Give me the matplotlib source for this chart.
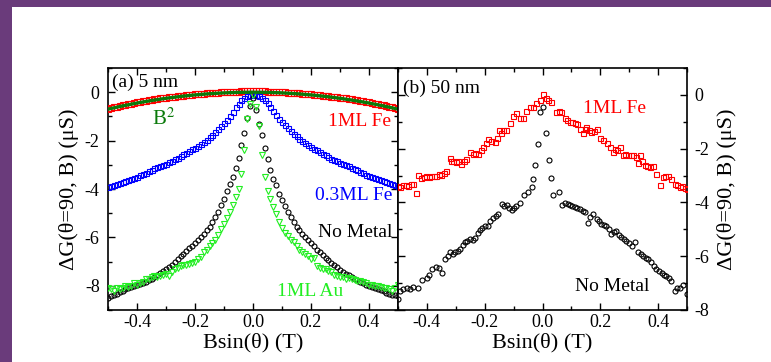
import numpy as np
import matplotlib
matplotlib.use("Agg")
import matplotlib.pyplot as plt
from matplotlib.patches import Rectangle
from matplotlib.ticker import MultipleLocator

matplotlib.rcParams.update({
    'font.family': 'serif',
    'font.serif': ['Liberation Serif', 'DejaVu Serif'],
    'mathtext.fontset': 'stix',
    'axes.unicode_minus': False,
})

# ---------------- panel (a): 5 nm, sampled every 10 mT ----------------
x_a = np.round(np.arange(-50, 51) * 0.01, 2)

fe1_a = [-0.69, -0.66, -0.63, -0.60, -0.57, -0.54, -0.52, -0.49, -0.47, -0.44,
         -0.42, -0.40, -0.38, -0.35, -0.33, -0.31, -0.29, -0.28, -0.26, -0.24,
         -0.22, -0.21, -0.19, -0.18, -0.16, -0.15, -0.14, -0.12, -0.11, -0.10,
         -0.09, -0.08, -0.07, -0.06, -0.05, -0.04, -0.03, -0.02, -0.02, -0.01,
         0.00, 0.00, 0.01, 0.02, 0.02, 0.02, 0.03, 0.03, 0.03, 0.04,
         0.04,
         0.04, 0.03, 0.03, 0.03, 0.02, 0.02, 0.02, 0.01, 0.00, 0.00,
         -0.01, -0.02, -0.02, -0.03, -0.04, -0.05, -0.06, -0.07, -0.08, -0.09,
         -0.10, -0.11, -0.12, -0.14, -0.15, -0.16, -0.18, -0.19, -0.21, -0.22,
         -0.24, -0.26, -0.28, -0.29, -0.31, -0.33, -0.35, -0.38, -0.40, -0.42,
         -0.44, -0.47, -0.49, -0.52, -0.54, -0.57, -0.60, -0.63, -0.66, -0.70]

fe03_a = [-3.91, -3.86, -3.82, -3.78, -3.74, -3.70, -3.66, -3.62, -3.58, -3.54,
          -3.49, -3.44, -3.38, -3.32, -3.26, -3.20, -3.15, -3.10, -3.05, -3.00,
          -2.95, -2.89, -2.83, -2.77, -2.70, -2.64, -2.57, -2.50, -2.43, -2.36,
          -2.29, -2.22, -2.14, -2.05, -1.96, -1.86, -1.75, -1.64, -1.52, -1.40,
          -1.27, -1.13, -0.97, -0.80, -0.63, -0.48, -0.32, -0.23, -0.16, -0.12,
          -0.10,
          -0.12, -0.16, -0.23, -0.32, -0.45, -0.60, -0.77, -0.94, -1.10, -1.24,
          -1.37, -1.49, -1.61, -1.72, -1.83, -1.93, -2.02, -2.11, -2.19, -2.26,
          -2.33, -2.40, -2.47, -2.54, -2.61, -2.67, -2.74, -2.80, -2.86, -2.92,
          -2.97, -3.02, -3.07, -3.12, -3.17, -3.23, -3.29, -3.35, -3.41, -3.46,
          -3.51, -3.55, -3.59, -3.63, -3.67, -3.71, -3.75, -3.79, -3.83, -3.88]

nometal_a = [-8.50, -8.44, -8.38, -8.32, -8.26, -8.20, -8.13, -8.08, -8.03, -8.00,
             -7.98, -7.94, -7.90, -7.84, -7.77, -7.70, -7.62, -7.55, -7.47, -7.40,
             -7.32, -7.22, -7.12, -7.00, -6.88, -6.78, -6.68, -6.57, -6.45, -6.35,
             -6.25, -6.12, -6.00, -5.85, -5.70, -5.55, -5.35, -5.15, -4.95, -4.65,
             -4.40, -4.10, -3.80, -3.50, -3.15, -2.70, -2.20, -1.70, -1.05, -0.55,
             -0.25,
             -0.75, -1.30, -1.75, -2.30, -2.75, -3.20, -3.60, -3.85, -4.20, -4.45,
             -4.70, -4.95, -5.15, -5.35, -5.55, -5.70, -5.85, -5.98, -6.12, -6.25,
             -6.37, -6.50, -6.62, -6.74, -6.85, -6.95, -7.05, -7.15, -7.24, -7.33,
             -7.42, -7.50, -7.57, -7.64, -7.70, -7.77, -7.83, -7.89, -7.95, -8.01,
             -8.06, -8.10, -8.14, -8.19, -8.23, -8.28, -8.32, -8.36, -8.40, -8.43]

au1_a = [-8.10, -8.15, -8.20, -8.10, -8.15, -8.10, -8.00, -8.05, -8.00, -7.90,
         -7.95, -7.90, -7.85, -7.70, -7.70, -7.65, -7.58, -7.62, -7.60, -7.55,
         -7.50, -7.60, -7.45, -7.30, -7.25, -7.20, -7.15, -7.15, -7.10, -7.05,
         -7.00, -6.90, -6.80, -6.60, -6.50, -6.35, -6.25, -6.10, -5.90, -5.65,
         -5.45, -5.20, -4.95, -4.65, -4.35, -4.00, -3.40, -2.40, -1.10, -0.50,
         -0.10,
         -0.60, -1.40, -2.60, -3.50, -4.10, -4.40, -4.75, -5.05, -5.35, -5.60,
         -5.80, -5.95, -6.10, -6.20, -6.35, -6.50, -6.60, -6.70, -6.75, -6.90,
         -6.85, -7.20, -7.25, -7.30, -7.30, -7.40, -7.45, -7.55, -7.60, -7.62,
         -7.65, -7.70, -7.68, -7.72, -7.75, -7.80, -7.82, -7.85, -7.90, -7.95,
         -7.98, -8.00, -8.02, -8.05, -8.10, -8.10, -8.15, -8.20, -8.10, -7.95]

# B^2 fit line
x_fit = [-0.50, -0.45, -0.40, -0.35, -0.30, -0.25, -0.20, -0.15, -0.10, -0.05, 0.00,
         0.05, 0.10, 0.15, 0.20, 0.25, 0.30, 0.35, 0.40, 0.45, 0.50]
b2_fit = [-0.700, -0.567, -0.448, -0.343, -0.252, -0.175, -0.112, -0.063, -0.028, -0.007, 0.000,
          -0.007, -0.028, -0.063, -0.112, -0.175, -0.252, -0.343, -0.448, -0.567, -0.700]

# ---------------- panel (b): 50 nm ----------------
x_fe1_b = [-0.500, -0.494, -0.483, -0.474, -0.465, -0.456, -0.448, -0.437, -0.431, -0.419,
           -0.410, -0.402, -0.393, -0.385, -0.376, -0.367, -0.358, -0.350, -0.341, -0.333,
           -0.321, -0.315, -0.310, -0.300, -0.292, -0.281, -0.272, -0.263, -0.252, -0.240,
           -0.232, -0.223, -0.214, -0.206, -0.197, -0.189, -0.177, -0.166, -0.158, -0.149,
           -0.143, -0.137, -0.125, -0.114, -0.102, -0.090, -0.079, -0.067, -0.056, -0.044,
           -0.033, -0.021, -0.010, 0.000, 0.011, 0.020, 0.030, 0.047, 0.056, 0.065,
           0.077, 0.085, 0.094, 0.103, 0.112, 0.120, 0.129, 0.140, 0.147, 0.152,
           0.160, 0.169, 0.178, 0.187, 0.198, 0.210, 0.222, 0.233, 0.244, 0.250,
           0.258, 0.267, 0.279, 0.287, 0.296, 0.305, 0.313, 0.322, 0.331, 0.339,
           0.346, 0.354, 0.362, 0.371, 0.382, 0.394, 0.408, 0.417, 0.425, 0.434,
           0.446, 0.457, 0.466, 0.475, 0.484, 0.492, 0.500]
fe1_b = [-3.40, -3.43, -3.34, -3.36, -3.38, -3.33, -3.30, -3.64, -2.99, -3.09,
         -3.05, -3.02, -3.06, -3.03, -3.00, -3.02, -2.95, -2.97, -2.90, -2.84,
         -2.34, -2.45, -2.47, -2.50, -2.47, -2.57, -2.45, -2.39, -2.12, -2.21,
         -2.15, -2.21, -2.05, -1.93, -1.80, -1.64, -1.73, -1.76, -1.62, -1.31,
         -1.40, -1.31, -1.31, -1.06, -0.77, -0.69, -0.87, -0.85, -0.60, -0.44,
         -0.44, -0.31, -0.19, 0.02, -0.10, -0.19, -0.28, -0.65, -0.60, -0.63,
         -0.87, -0.92, -1.02, -1.00, -1.06, -1.10, -1.25, -1.43, -1.25, -1.18,
         -1.30, -1.37, -1.33, -1.28, -1.62, -1.68, -1.78, -1.93, -2.12, -2.00,
         -2.06, -1.93, -2.24, -2.20, -2.23, -2.25, -2.24, -2.30, -2.55, -2.24,
         -2.45, -2.62, -2.65, -2.68, -2.66, -2.93, -3.36, -3.05, -3.00, -3.02,
         -3.11, -3.30, -3.35, -3.43, -3.40, -3.46, -3.50]

x_nm_b = [-0.500, -0.492, -0.481, -0.470, -0.458, -0.447, -0.430, -0.418, -0.401, -0.392,
          -0.384, -0.367, -0.358, -0.349, -0.337, -0.328, -0.320, -0.311, -0.303, -0.294,
          -0.285, -0.276, -0.268, -0.260, -0.251, -0.242, -0.233, -0.224, -0.216, -0.208,
          -0.199, -0.188, -0.180, -0.171, -0.162, -0.153, -0.141, -0.132, -0.124, -0.115,
          -0.107, -0.098, -0.090, -0.078, -0.063, -0.049, -0.038, -0.034, -0.026, -0.015,
          -0.008, 0.003, 0.011, 0.023, 0.031, 0.037, 0.057, 0.066, 0.078, 0.087,
          0.095, 0.103, 0.112, 0.121, 0.130, 0.139, 0.147, 0.158, 0.166, 0.176,
          0.187, 0.195, 0.204, 0.212, 0.221, 0.230, 0.238, 0.247, 0.256, 0.264,
          0.273, 0.281, 0.290, 0.299, 0.308, 0.319, 0.331, 0.340, 0.348, 0.357,
          0.366, 0.377, 0.385, 0.394, 0.403, 0.412, 0.420, 0.429, 0.438, 0.446,
          0.458, 0.467, 0.475, 0.487, 0.499]
nometal_b = [-7.58, -7.28, -7.23, -7.20, -7.23, -7.14, -7.19, -6.89, -6.82, -6.70,
             -6.48, -6.39, -6.45, -6.61, -6.11, -6.00, -5.86, -5.90, -5.86, -5.80,
             -5.73, -5.60, -5.48, -5.42, -5.36, -5.40, -5.32, -5.15, -5.02, -4.95,
             -4.86, -4.88, -4.70, -4.57, -4.50, -4.42, -4.07, -4.12, -4.10, -4.20,
             -4.27, -4.20, -4.15, -4.03, -3.74, -3.61, -3.43, -3.11, -2.62, -1.81,
             -0.65, -0.46, -1.43, -2.43, -3.09, -3.74, -3.61, -4.11, -4.03, -4.05,
             -4.10, -4.15, -4.17, -4.20, -4.24, -4.30, -4.36, -4.77, -4.55, -4.42,
             -4.61, -4.70, -4.80, -4.85, -4.86, -5.00, -5.17, -5.10, -5.05, -5.20,
             -5.30, -5.35, -5.42, -5.50, -5.61, -5.48, -5.86, -5.90, -5.98, -6.05,
             -6.11, -6.23, -6.35, -6.48, -6.55, -6.61, -6.68, -6.73, -6.82, -6.92,
             -7.29, -7.20, -7.17, -7.07, -7.41]

RED = '#ff0000'
BLUE = '#0000ff'
LIME = '#22ee22'
DKGREEN = '#0a7a0a'
PURPLE = '#6a3b7b'

W, H = 771, 362
fig = plt.figure(figsize=(W / 100, H / 100), dpi=100)
fig.patch.set_facecolor(PURPLE)
fig.add_artist(Rectangle((12 / W, 0), 1, (H - 7) / H, transform=fig.transFigure,
                         facecolor='white', edgecolor='none', zorder=-1))

left, mid, right = 108 / W, 398 / W, 687 / W
bottom, top = (H - 310) / H, (H - 68) / H
ax_a = fig.add_axes([left, bottom, mid - left, top - bottom])
ax_b = fig.add_axes([mid, bottom, right - mid, top - bottom])

ms = dict(linestyle='none', markerfacecolor='none', markersize=3.6, markeredgewidth=0.8)

ax_a.plot(x_a, fe1_a, marker='s', color=RED, zorder=3, **{**ms, 'markersize': 4.6})
ax_a.plot(x_fit, b2_fit, color=DKGREEN, lw=2.4, zorder=4)
ax_a.plot(x_a, fe03_a, marker='s', color=BLUE, zorder=3, **ms)
ax_a.plot(x_a, nometal_a, marker='o', color='black', zorder=3, **ms)
ax_a.plot(x_a, au1_a, marker='v', color=LIME, zorder=3,
          **{**ms, 'markersize': 4.2})

ax_b.plot(x_fe1_b, fe1_b, marker='s', color=RED, zorder=3, **ms)
ax_b.plot(x_nm_b, nometal_b, marker='o', color='black', zorder=3, **ms)

ax_a.set_ylim(-9, 1)
ax_b.set_ylim(-8, 1)

for ax in (ax_a, ax_b):
    ax.set_xlim(-0.5, 0.5)
    ax.xaxis.set_major_locator(MultipleLocator(0.2))
    ax.xaxis.set_minor_locator(MultipleLocator(0.1))
    ax.yaxis.set_major_locator(MultipleLocator(2))
    ax.yaxis.set_minor_locator(MultipleLocator(1))
    ax.tick_params(which='both', direction='in', top=True, right=True, left=True,
                   labelsize=13, pad=3, width=1)
    ax.tick_params(which='major', length=5)
    ax.tick_params(which='minor', length=3)
    for s in ax.spines.values():
        s.set_linewidth(1.2)
    ax.set_xlabel('Bsin(θ) (T)', fontsize=16, labelpad=1)
    ax.xaxis.set_major_formatter(matplotlib.ticker.FormatStrFormatter('%.1f'))

ax_a.yaxis.set_major_formatter(matplotlib.ticker.FormatStrFormatter('%d'))
ax_b.yaxis.set_major_formatter(matplotlib.ticker.FormatStrFormatter('%d'))
ax_a.tick_params(axis='y', labelleft=True, labelright=False, pad=6)
ax_b.tick_params(axis='y', labelleft=False, labelright=True, pad=5)
ax_a.set_ylabel('ΔG(θ=90, B) (μS)', fontsize=16, labelpad=4)
ax_b.yaxis.set_label_position('right')
ax_b.set_ylabel('ΔG(θ=90, B) (μS)', fontsize=16, rotation=90, labelpad=6)

# annotations
fs = 14
ax_a.text(-0.486, 0.41, '(a) 5 nm', fontsize=fs, va='center', ha='left')
ax_a.text(-0.348, -1.11, r'B$^2$', fontsize=15, color=DKGREEN, va='center', ha='left')
ax_a.text(0.476, -1.2, '1ML Fe', fontsize=fs, color=RED, va='center', ha='right')
ax_a.text(0.479, -4.25, '0.3ML Fe', fontsize=fs, color=BLUE, va='center', ha='right')
ax_a.text(0.479, -5.81, 'No Metal', fontsize=fs, color='black', va='center', ha='right')
ax_a.text(0.083, -8.25, '1ML Au', fontsize=fs, color=LIME, va='center', ha='left')

ax_b.text(-0.483, 0.26, '(b) 50 nm', fontsize=fs, va='center', ha='left')
ax_b.text(0.140, -0.49, '1ML Fe', fontsize=fs, color=RED, va='center', ha='left')
ax_b.text(0.112, -7.14, 'No Metal', fontsize=fs, color='black', va='center', ha='left')

fig.savefig('out.png', dpi=100, facecolor=fig.get_facecolor())
